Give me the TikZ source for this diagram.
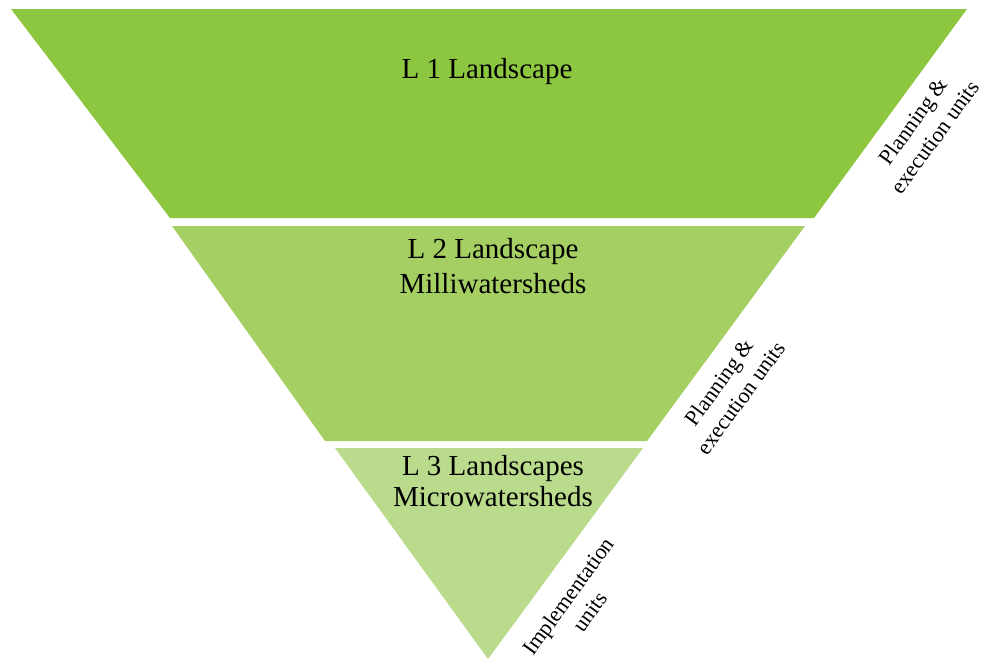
\documentclass[tikz,border=0pt]{standalone}
\usepackage{fontspec}
\setmainfont{Liberation Serif}
\definecolor{gA}{RGB}{141,198,63}
\definecolor{gB}{RGB}{165,206,99}
\definecolor{gC}{RGB}{186,219,140}
\tikzset{
  band/.style={draw=none},
  mainlbl/.style={font=\fontsize{29}{35}\selectfont, align=center, anchor=base, inner sep=0pt},
  sidelbl/.style={font=\fontsize{22}{27}\selectfont, align=center, rotate=54, inner sep=0pt}
}
\begin{document}
\begin{tikzpicture}[x=1pt,y=-1pt]
\useasboundingbox (0,0) rectangle (981,659);
\fill[band,gA] (11,9) -- (967,9) -- (814,218) -- (170,218) -- cycle;
\fill[band,gB] (172,226) -- (805,226) -- (647,441) -- (325,441) -- cycle;
\fill[band,gC] (335,448) -- (643,448) -- (488,659) -- cycle;
\node[mainlbl] (l1) at (487,78) {L 1 Landscape};
\node[mainlbl,font=\fontsize{29}{35}\selectfont] (l2) at (493,293) {L 2 Landscape\\Milliwatersheds};
\node[mainlbl,font=\fontsize{29}{31}\selectfont] (l3) at (493,506) {L 3 Landscapes\\Microwatersheds};
\node[sidelbl] (s1) at (924,129) {Planning \&\\execution units};
\node[sidelbl] (s2) at (730,390) {Planning \&\\execution units};
\node[sidelbl] (s3) at (579,604) {Implementation\\units};
\end{tikzpicture}
\end{document}
